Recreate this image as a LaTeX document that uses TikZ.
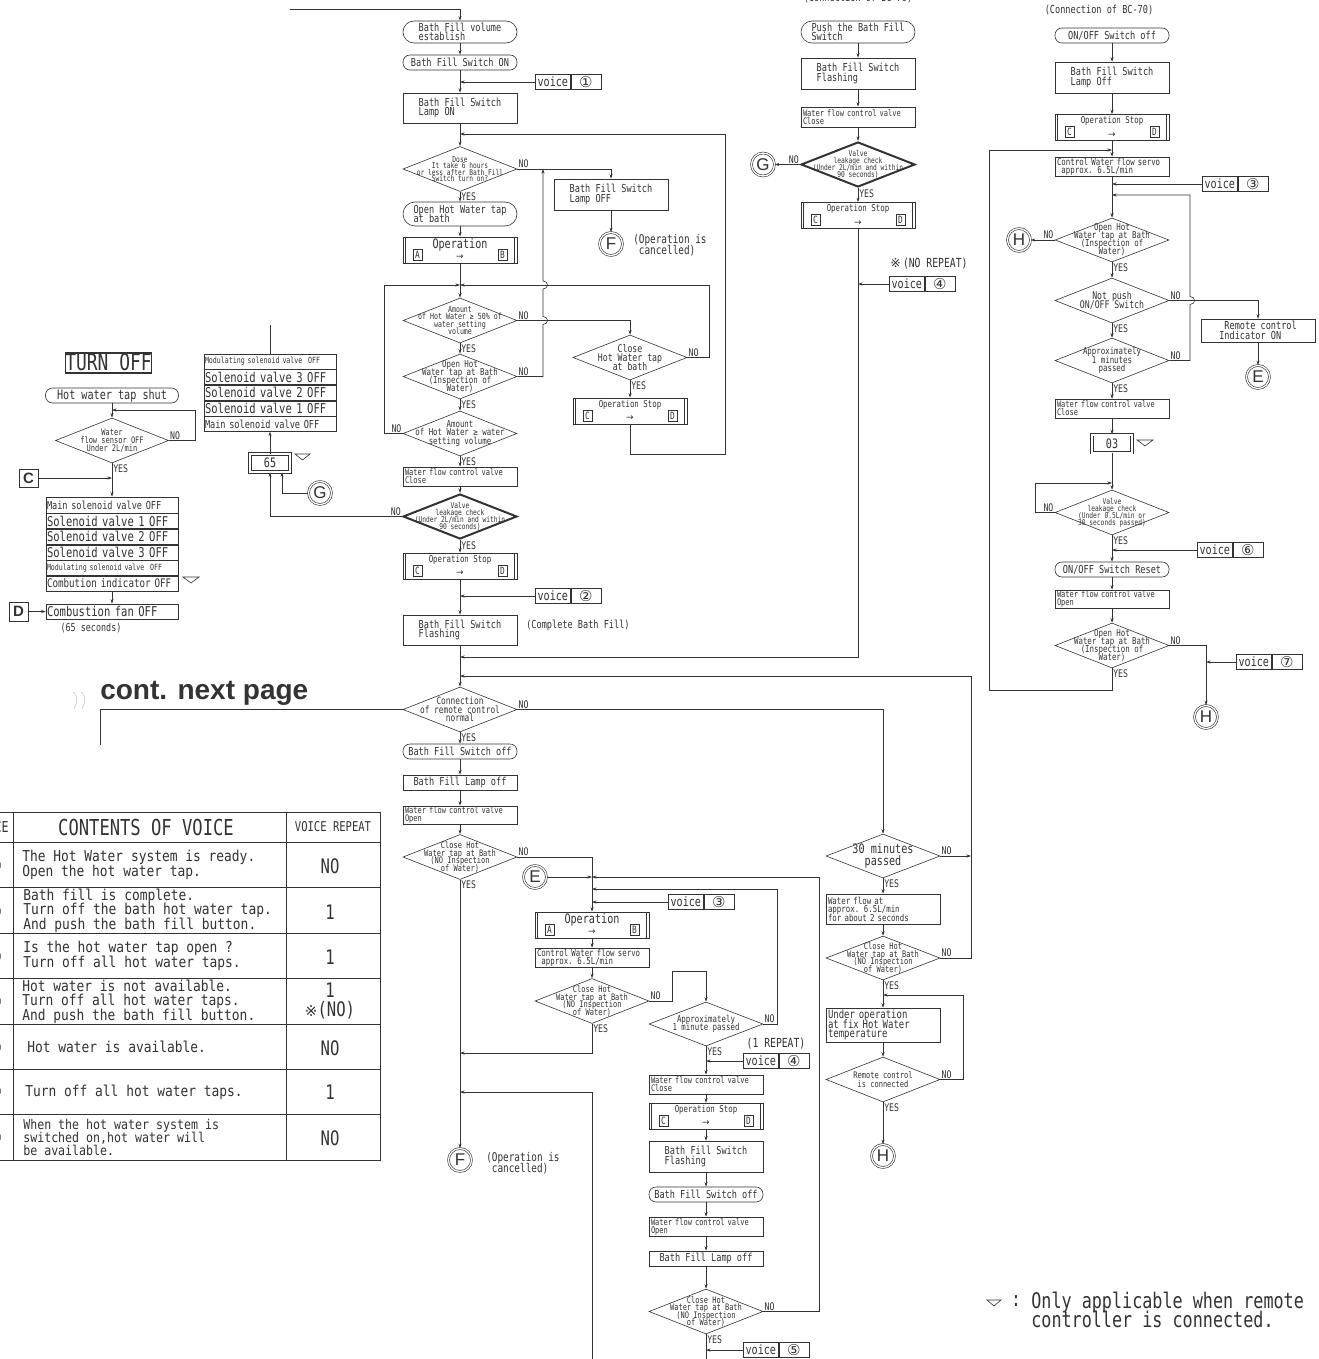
\documentclass[tikz,border=0pt]{standalone}
\usepackage{fontspec}
\setmainfont[FakeStretch=0.78]{DejaVu Sans Mono}
\newfontfamily\tabf[FakeStretch=0.86]{DejaVu Sans Mono}
\newfontfamily\symf{DejaVu Sans}
\newfontfamily\headf{Liberation Sans}
\usetikzlibrary{positioning,shapes.geometric,arrows.meta}

\newcommand{\fs}[2]{\fontsize{#1}{#2}\selectfont\lineskiplimit=-100pt\relax}
% voice box: name, left x, y, number
\newcommand{\vcbox}[4]{%
  \node[vbox,anchor=west] (#1) at (#2,#3) {voice};
  \node[vnum,right=0pt of #1] (#1n) {#4};}
% operation block: name, position, title font, title, left letter, right letter
\newcommand{\opblock}[6]{%
  \node[opb] (#1) at (#2) {};
  \draw ([xshift=3pt]#1.north west) -- ([xshift=3pt]#1.south west)
        ([xshift=-3pt]#1.north east) -- ([xshift=-3pt]#1.south east);
  \node[inner sep=0pt,font=#3,anchor=north] (#1t) at ([yshift=-2pt]#1.north) {#4};
  \node[inner sep=0pt,font=\symf\fs{9}{9}] (#1a) at ([yshift=6pt]#1.south) {→};
  \node[lbox,anchor=south west] (#1l) at ([shift={(10pt,3pt)}]#1.south west) {#5};
  \node[lbox,anchor=south east] (#1r) at ([shift={(-10pt,3pt)}]#1.south east) {#6};}

\begin{document}
\begin{tikzpicture}[x=1pt,y=-1pt,line width=0.6pt,color=black!80,
  >={Stealth[length=4.5pt,width=3pt]},
  box/.style={draw,rectangle,minimum width=114pt,inner sep=0pt,align=left,font=\fs{11}{9.5}},
  lbx/.style={box,text width=110pt,inner xsep=2pt},
  term/.style={box,rounded corners=#1},
  term/.default=7pt,
  srow/.style={draw,rectangle,minimum height=15pt,text width=130pt,inner xsep=1pt,inner ysep=0pt,align=left},
  dec/.style={draw,diamond,minimum width=114pt,minimum height=45pt,inner sep=0pt},
  bdec/.style={dec,line width=2pt},
  dtxt/.style={align=center,inner sep=0pt},
  conn/.style={draw,circle,double,double distance=1.3pt,minimum size=23pt,inner sep=0pt,font=\headf\fs{17}{17}},
  opb/.style={draw,rectangle,minimum width=114pt,minimum height=26pt,inner sep=0pt},
  lbox/.style={draw,rectangle,minimum width=9pt,minimum height=11pt,inner sep=0pt,font=\fs{10}{10}},
  vbox/.style={draw,rectangle,minimum width=35pt,minimum height=15pt,inner sep=0pt,font=\fs{13}{13}},
  vnum/.style={draw,rectangle,minimum width=30pt,minimum height=15pt,inner sep=0pt,font=\symf\fs{15}{15}},
  dbx/.style={draw,double,double distance=2pt,minimum width=40pt,minimum height=18pt,inner sep=0pt,font=\fs{13}{13}},
  cbx/.style={draw,minimum width=19pt,minimum height=19pt,inner sep=0pt,font=\headf\bfseries\fs{15}{15}},
  lbl/.style={inner sep=1pt,font=\fs{10.5}{10.5}},
  note/.style={align=left,inner sep=0pt},
  row/.style={note,anchor=west,font=\tabf\fs{15}{14.5}}]
\useasboundingbox[fill=white] (0,0) rectangle (1318,1359);

% ---------- main column ----------
\coordinate (inA) at (290,9);
\node[term=11pt,minimum height=22pt] (t1) at (460,32) {Bath Fill volume\\establish};
\node[term,minimum height=15pt] (t2) at (460,62.5) {Bath Fill Switch ON};
\vcbox{v1}{535}{82}{①}
\node[box,minimum height=30pt] (p1) at (460,108) {Bath Fill Switch\\Lamp ON};
\coordinate (j1) at (460,134);
\node[dec] (d1) at (460,169) {};
\node[dtxt,font=\fs{8}{6.5}] (d1t) at (d1) {Dose\\It take 6 hours\\or less after Bath Fill\\Switch turn on?};
\node[box,minimum height=31pt] (p2) at (611,194.5) {Bath Fill Switch\\Lamp OFF};
\node[conn] (cF1) at (611,244) {F};
\node[note,anchor=west,font=\fs{12}{10.5}] (can1) at (633,245) {(Operation is\\\hphantom{(}cancelled)};
\node[term=12pt,minimum height=24pt] (t3) at (460,214) {Open Hot Water tap\\at bath};
\opblock{op1}{460,250}{\fs{13}{13}}{Operation}{A}{B}
\coordinate (j2) at (460,285);
\node[dec] (d2) at (460,320.5) {};
\node[dtxt,font=\fs{8.5}{7.5}] (d2t) at (d2) {Amount\\of Hot Water ≥ 50\% of\\water setting\\volume};
\node[dec] (d3) at (630,357.5) {};
\node[dtxt,font=\fs{10.5}{9}] (d3t) at (d3) {Close\\Hot Water tap\\at bath};
\opblock{op2}{630,411}{\fs{9.5}{9.5}}{Operation Stop}{C}{D}
\node[dec] (d4) at (460,376.5) {};
\node[dtxt,font=\fs{9.5}{8}] (d4t) at (d4) {Open Hot\\Water tap at Bath\\(Inspection of\\Water)};
\node[dec] (d5) at (460,433.5) {};
\node[dtxt,font=\fs{9.5}{8.5}] (d5t) at (d5) {Amount\\of Hot Water ≥ water\\setting volume};
\node[lbx,minimum height=19pt,font=\fs{9}{8}] (p3) at (460,476.5) {Water flow control valve\\Close};
\node[bdec] (d6) at (460,516.5) {};
\node[dtxt,font=\fs{8}{7}] (d6t) at (d6) {Valve\\leakage check\\(Under 2L/min and within\\90 seconds)};
\opblock{op3}{460,566}{\fs{9.5}{9.5}}{Operation Stop}{C}{D}
\vcbox{v2}{535}{596}{②}
\node[box,minimum height=30pt] (p4) at (460,630) {Bath Fill Switch\\Flashing};
\node[note,anchor=west,font=\fs{11}{11}] (cmp) at (526,625) {(Complete Bath Fill)};
\coordinate (j3) at (460,657);
\coordinate (j4) at (460,676);
\node[dec] (d7) at (460,709.5) {};
\node[dtxt,font=\fs{10}{8.5}] (d7t) at (d7) {Connection\\of remote control\\normal};
\coordinate (cnt) at (100,745);
\node[term,minimum height=15pt] (t4) at (460,751.5) {Bath Fill Switch off};
\node[box,minimum height=15pt] (p5) at (460,782.5) {Bath Fill Lamp off};
\node[lbx,minimum height=18pt,font=\fs{9}{8}] (p6) at (460,815) {Water flow control valve\\Open};
\node[dec] (d8) at (460,857) {};
\node[dtxt,font=\fs{9}{7.5}] (d8t) at (d8) {Close Hot\\Water tap at Bath\\(NO Inspection\\of Water)};
\node[conn] (cF2) at (460,1160) {F};
\node[note,anchor=west,font=\fs{12}{10.5}] (can2) at (486,1163) {(Operation is\\\hphantom{(}cancelled)};
\coordinate (j7) at (460,1053);
\coordinate (j8) at (460,1092);

% ---------- middle column ----------
\node[conn] (cE1) at (535,877) {E};
\coordinate (j5) at (592,877);
\coordinate (j6) at (592,889);
\vcbox{v3}{668}{902}{③}
\opblock{op4}{592,925}{\fs{13}{13}}{Operation}{A}{B}
\node[lbx,minimum height=19pt,font=\fs{9.5}{8}] (p7) at (592,957.5) {Control Water flow servo\\\hphantom{a}approx. 6.5L/min};
\node[dec] (d9) at (592,1001) {};
\node[dtxt,font=\fs{9}{7.5}] (d9t) at (d9) {Close Hot\\Water tap at Bath\\(NO Inspection\\of Water)};
\node[dec,minimum height=44pt] (d10) at (706,1024) {};
\node[dtxt,font=\fs{9.5}{8.5}] (d10t) at (d10) {Approximately\\1 minute passed};
\node[note,font=\fs{12.5}{12.5}] (rep1) at (776,1044) {(1 REPEAT)};
\vcbox{v4}{743}{1061}{④}
\node[lbx,minimum height=19pt,font=\fs{9}{8}] (p8) at (706,1084.5) {Water flow control valve\\Close};
\opblock{op5}{706,1116}{\fs{9.5}{9.5}}{Operation Stop}{C}{D}
\node[box,minimum height=31pt] (p9) at (706,1156.5) {Bath Fill Switch\\Flashing};
\node[term,minimum height=15pt] (t5) at (706,1194.5) {Bath Fill Switch off};
\node[lbx,minimum height=19pt,font=\fs{9}{8}] (p10) at (706,1226.5) {Water flow control valve\\Open};
\node[box,minimum height=15pt] (p11) at (706,1258.5) {Bath Fill Lamp off};
\node[dec] (d11) at (706,1311.5) {};
\node[dtxt,font=\fs{9}{7.5}] (d11t) at (d11) {Close Hot\\Water tap at Bath\\(NO Inspection\\of Water)};
\vcbox{v5}{743}{1350}{⑤}
\coordinate (outB) at (706,1362);
\coordinate (inB) at (592,1362);

% ---------- 30 minutes column ----------
\node[dec,minimum height=44pt] (d12) at (883,856) {};
\node[dtxt,font=\fs{13}{12}] (d12t) at (d12) {30 minutes\\passed};
\coordinate (j9) at (971,856);
\node[lbx,minimum height=30pt,font=\fs{9.5}{8.5}] (p12) at (883,909) {Water flow at\\approx. 6.5L/min\\for about 2 seconds};
\node[dec,minimum height=44pt] (d13) at (883,958) {};
\node[dtxt,font=\fs{9}{7.5}] (d13t) at (d13) {Close Hot\\Water tap at Bath\\(NO Inspection\\of Water)};
\coordinate (j10) at (883,995);
\node[lbx,minimum height=34pt,font=\fs{11.5}{9.5}] (p13) at (883,1025) {Under operation\\at fix Hot Water\\temperature};
\node[dec] (d14) at (883,1079.5) {};
\node[dtxt,font=\fs{9}{8.5}] (d14t) at (d14) {Remote control\\is connected};
\node[conn] (cH1) at (883,1156) {H};

% ---------- second column ----------
\node[note,anchor=base,font=\fs{11}{11}] (bc1) at (858,2) {(Connection of BC-70)};
\node[term=11pt,minimum height=22pt] (t6) at (858,32) {Push the Bath Fill\\Switch};
\node[box,minimum height=31pt] (p14) at (858,73.5) {Bath Fill Switch\\Flashing};
\node[lbx,minimum height=20pt,font=\fs{9}{8}] (p15) at (858,117) {Water flow control valve\\Close};
\node[bdec] (d15) at (858,164.5) {};
\node[dtxt,font=\fs{8}{7}] (d15t) at (d15) {Valve\\leakage check\\(Under 2L/min and within\\90 seconds)};
\node[conn] (cG1) at (763,164.5) {G};
\opblock{op6}{858,215.5}{\fs{9.5}{9.5}}{Operation Stop}{C}{D}
\node[note,font=\fs{12.5}{12.5}] (rep2) at (929,264) {{\symf ※}\,(NO REPEAT)};
\vcbox{v6}{889}{284}{④}

% ---------- third column ----------
\node[note,anchor=base,font=\fs{11}{11}] (bc2) at (1099,14) {(Connection of BC-70)};
\node[term,minimum height=15pt] (t7) at (1112,35.5) {ON/OFF Switch off};
\node[box,minimum height=31pt] (p16) at (1112,77.5) {Bath Fill Switch\\Lamp Off};
\opblock{op7}{1112,127.5}{\fs{9.5}{9.5}}{Operation Stop}{C}{D}
\coordinate (j11) at (1112,150);
\node[lbx,minimum height=19pt,font=\fs{9.5}{8}] (p17) at (1112,166.5) {Control Water flow servo\\\hphantom{a}approx. 6.5L/min};
\vcbox{v7}{1202}{184}{③}
\coordinate (j12) at (1112,195);
\node[dec,minimum height=44pt] (d16) at (1112,240) {};
\node[dtxt,font=\fs{9.5}{8}] (d16t) at (d16) {Open Hot\\Water tap at Bath\\(Inspection of\\Water)};
\node[conn] (cH2) at (1019,240) {H};
\node[dec] (d17) at (1112,300.5) {};
\node[dtxt,font=\fs{10.5}{9.5}] (d17t) at (d17) {Not push\\ON/OFF Switch};
\node[box,minimum height=23pt] (p18) at (1258,330.5) {\hphantom{a}Remote control\\Indicator ON};
\node[conn] (cE2) at (1258,377) {E};
\node[dec] (d18) at (1112,360.5) {};
\node[dtxt,font=\fs{9.5}{8.5}] (d18t) at (d18) {Approximately\\1 minutes\\passed};
\node[lbx,minimum height=19pt,font=\fs{9}{8}] (p19) at (1112,408.5) {Water flow control valve\\Close};
\node[dbx] (n03) at (1112,443.5) {03};
\coordinate (j13) at (1112,483);
\node[dec] (d19) at (1112,512.5) {};
\node[dtxt,font=\fs{8}{7}] (d19t) at (d19) {Valve\\leakage check\\(Under 0.5L/min or\\30 seconds passed)};
\vcbox{v8}{1197}{550}{⑥}
\node[term,minimum height=15pt] (t8) at (1112,569.5) {ON/OFF Switch Reset};
\node[lbx,minimum height=18pt,font=\fs{9}{8}] (p20) at (1112,599) {Water flow control valve\\Open};
\node[dec] (d20) at (1112,645.5) {};
\node[dtxt,font=\fs{9.5}{8}] (d20t) at (d20) {Open Hot\\Water tap at Bath\\(Inspection of\\Water)};
\vcbox{v9}{1236}{662}{⑦}
\node[conn] (cH3) at (1206,717) {H};

% ---------- turn off ----------
\node[draw,line width=1.2pt,minimum width=85pt,minimum height=20pt,inner sep=0pt,text height=15pt,text depth=0pt,font=\fs{23}{23}] (ttl) at (108.5,363) {TURN OFF};
\node[term,minimum width=133pt,minimum height=15pt,font=\fs{13}{13}] (t9) at (112,395.5) {Hot water tap shut};
\coordinate (j14) at (112,410);
\node[dec,minimum width=113pt] (d21) at (112,440.5) {};
\node[dtxt,font=\fs{9}{8}] (d21t) at (d21) {Water\\flow sensor OFF\\Under 2L/min};
\node[cbx,minimum height=18pt] (cC) at (28.5,478) {C};
\coordinate (j15) at (112,478);
\node[srow,minimum height=16pt,font=\fs{11}{11}] (s1) at (112,505) {Main solenoid valve OFF};
\node[srow,font=\fs{13.5}{13.5},below=0pt of s1] (s2) {Solenoid valve 1 OFF};
\node[srow,font=\fs{13.5}{13.5},below=0pt of s2] (s3) {Solenoid valve 2 OFF};
\node[srow,font=\fs{13.5}{13.5},below=0pt of s3] (s4) {Solenoid valve 3 OFF};
\node[srow,font=\fs{8.5}{8.5},below=0pt of s4] (s5) {Modulating solenoid valve\ \ OFF};
\node[srow,font=\fs{11.8}{11.8},below=0pt of s5] (s6) {Combution indicator OFF};
\draw (183,577) -- (199,577) -- (191,583) -- cycle;
\node[srow,font=\fs{13.5}{13.5}] (fan) at (112,611.5) {Combustion fan OFF};
\node[cbx] (cD) at (18.5,611.5) {D};
\node[note,font=\fs{10.8}{10.8}] (sec) at (91,628) {(65 seconds)};

% ---------- stack above 65 ----------
\node[srow,font=\fs{8.5}{8.5}] (m1) at (270,361.5) {Modulating solenoid valve\ \ OFF};
\node[srow,font=\fs{13.5}{13.5},below=0pt of m1] (m2) {Solenoid valve 3 OFF};
\node[srow,font=\fs{13.5}{13.5},below=0pt of m2] (m3) {Solenoid valve 2 OFF};
\node[srow,font=\fs{13.5}{13.5},below=0pt of m3] (m4) {Solenoid valve 1 OFF};
\node[srow,font=\fs{11}{11},below=0pt of m4] (m5) {Main solenoid valve OFF};
\coordinate (outC) at (270,325);
\node[dbx] (n65) at (270,463) {65};
\draw (295,454) -- (310,454) -- (302.5,460) -- cycle;
\node[conn] (cG2) at (320,493) {G};
\draw (1137,440) -- (1153,440) -- (1145,446) -- cycle;

% ---------- connectors ----------
\draw[->] (inA) -| (t1.north);
\draw[->] (t1) -- (t2);
\draw[->] (t2) -- (p1);
\draw[->] (v1.west) -- (v1.west -| t2.south);
\draw[->] (p1) -- (d1);
\draw[->] (d1.east) -| (p2.north);
\draw[->] (p2) -- (cF1);
\draw[->] (d1) -- (t3);
\draw[->] (t3) -- (op1);
\draw[->] (op1) -- (d2);
\draw[->] (d2.east) -| (d3.north);
\draw[->] (d3) -- (op2);
\draw[->] (op2.south) |- (725,454) |- (j1);
\draw[->] (d3.east) -| (709,285) -- (j2);
\draw[->] (d2) -- (d4);
\draw[->] (d4.east) -- (543,376.5) -- (543,324.5) .. controls (549,324.5) and (549,316.5) .. (543,316.5)
  -- (543,289) .. controls (549,289) and (549,281) .. (543,281) -- (543,169);
\draw[->] (d4) -- (d5);
\draw[->] (d5.west) -| (384,285) -- (j2);
\draw[->] (d5) -- (p3);
\draw[->] (p3) -- (d6);
\draw[->] (d6.west) -| (n65.south);
\draw[->] (d6) -- (op3);
\draw[->] (op3) -- (p4);
\draw[->] (v2.west) -- (v2.west -| op3.south);
\draw[->] (p4) -- (d7);
\draw (d7.west) -| (cnt);
\draw[->] (d7.east) -| (d12.north);
\draw[->] (d7) -- (t4);
\draw[->] (t4) -- (p5);
\draw[->] (p5) -- (p6);
\draw[->] (p6) -- (d8);
\draw[->] (d8) -- (cF2);
\draw[->] (d8.east) -| (op4.north);
\draw[->] (cE1) -- (j5);
\draw[->] (v3.west) -- (v3.west -| op4.north);
\draw[->] (op4) -- (p7);
\draw[->] (p7) -- (d9);
\draw[->] (d9.east) -| (672,971) -| (d10.north);
\draw[->] (d9.south) |- (j7);
\draw[->] (d10.east) -| (777,889) -- (j6);
\draw[->] (d10) -- (p8);
\draw[->] (v4.west) -- (v4.west -| p8.north);
\draw[->] (p8) -- (op5);
\draw[->] (op5) -- (p9);
\draw[->] (p9) -- (t5);
\draw[->] (t5) -- (p10);
\draw[->] (p10) -- (p11);
\draw[->] (p11) -- (d11);
\draw[->] (d11.east) -| (819,877) -- (j5);
\draw (d11.south) -- (outB);
\draw[->] (v5.west) -- (v5.west -| d11.south);
\draw[->] (inB) |- (j8);
\draw[->] (d12.east) -- (j9);
\draw[->] (d12) -- (p12);
\draw[->] (p12) -- (d13);
\draw[->] (d13.east) -| (971,676) -- (j4);
\draw[->] (d13) -- (p13);
\draw[->] (p13) -- (d14);
\draw[->] (d14.east) -| (963,995) -- (j10);
\draw[->] (d14) -- (cH1);
\draw[->] (t6) -- (p14);
\draw[->] (p14) -- (p15);
\draw[->] (p15) -- (d15);
\draw[->] (d15.west) -- (cG1);
\draw[->] (d15) -- (op6);
\draw[->] (op6.south) |- (j3);
\draw[->] (v6.west) -- (v6.west -| op6.south);
\draw[->] (t7) -- (p16);
\draw[->] (p16) -- (op7);
\draw[->] (op7) -- (p17);
\draw[->] (v7.west) -- (v7.west -| p17.south);
\draw[->] (p17) -- (d16);
\draw[->] (d16.west) -- (cH2);
\draw[->] (d16) -- (d17);
\draw[->] (d17.east) -| (p18.north);
\draw[->] (p18) -- (cE2);
\draw[->] (d17) -- (d18);
\draw[->] (d18.east) -- (1190,360.5) -- (1190,304.5) .. controls (1196,304.5) and (1196,296.5) .. (1190,296.5)
  -- (1190,195) -- (j12);
\draw[->] (d18) -- (p19);
\draw[->] (p19) -- (n03);
\draw[->] (n03) -- (d19);
\draw[->] (d19.west) -| (1035,483) -- (j13);
\draw[->] (d19) -- (t8);
\draw[->] (v8.west) -- (v8.west -| t8.north);
\draw[->] (t8) -- (p20);
\draw[->] (p20) -- (d20);
\draw[->] (d20.east) -| (cH3.north);
\draw[->] (v9.west) -- (v9.west -| cH3.north);
\draw[->] (d20.south) |- (989,690) |- (j11);
\draw[->] (t9) -- (d21);
\draw[->] (d21.east) -| (195,410) -- (j14);
\draw[->] (d21) -- (s1);
\draw[->] (cC) -- (j15);
\draw[->] (s6) -- (fan);
\draw[->] (cD) -- (fan);
\draw[->] (n65) -- (m5);
\draw (m1.north) -- (outC);
\draw[->] (cG2.west) -| ([xshift=12pt]n65.south);

% ---------- yes / no ----------
\node[lbl,anchor=south west] (d1n) at (d1.east) {NO};
\node[lbl,anchor=north west] (d1y) at (d1.south) {YES};
\node[lbl,anchor=south west] (d2n) at (d2.east) {NO};
\node[lbl,anchor=north west] (d2y) at (d2.south) {YES};
\node[lbl,anchor=south west] (d3n) at (d3.east) {NO};
\node[lbl,anchor=north west] (d3y) at (d3.south) {YES};
\node[lbl,anchor=south west] (d4n) at (d4.east) {NO};
\node[lbl,anchor=north west] (d4y) at (d4.south) {YES};
\node[lbl,anchor=south east] (d5n) at (d5.west) {NO};
\node[lbl,anchor=north west] (d5y) at (d5.south) {YES};
\node[lbl,anchor=south east] (d6n) at (d6.west) {NO};
\node[lbl,anchor=north west] (d6y) at (d6.south) {YES};
\node[lbl,anchor=south west] (d7n) at (d7.east) {NO};
\node[lbl,anchor=north west] (d7y) at (d7.south) {YES};
\node[lbl,anchor=south west] (d8n) at (d8.east) {NO};
\node[lbl,anchor=north west] (d8y) at (d8.south) {YES};
\node[lbl,anchor=south west] (d9n) at (d9.east) {NO};
\node[lbl,anchor=north west] (d9y) at (d9.south) {YES};
\node[lbl,anchor=south west] (d10n) at (d10.east) {NO};
\node[lbl,anchor=north west] (d10y) at (d10.south) {YES};
\node[lbl,anchor=south west] (d11n) at (d11.east) {NO};
\node[lbl,anchor=north west] (d11y) at (d11.south) {YES};
\node[lbl,anchor=south west] (d12n) at (d12.east) {NO};
\node[lbl,anchor=north west] (d12y) at (d12.south) {YES};
\node[lbl,anchor=south west] (d13n) at (d13.east) {NO};
\node[lbl,anchor=north west] (d13y) at (d13.south) {YES};
\node[lbl,anchor=south west] (d14n) at (d14.east) {NO};
\node[lbl,anchor=north west] (d14y) at (d14.south) {YES};
\node[lbl,anchor=south east] (d15n) at (d15.west) {NO};
\node[lbl,anchor=north west] (d15y) at (d15.south) {YES};
\node[lbl,anchor=south east] (d16n) at (d16.west) {NO};
\node[lbl,anchor=north west] (d16y) at (d16.south) {YES};
\node[lbl,anchor=south west] (d17n) at (d17.east) {NO};
\node[lbl,anchor=north west] (d17y) at (d17.south) {YES};
\node[lbl,anchor=south west] (d18n) at (d18.east) {NO};
\node[lbl,anchor=north west] (d18y) at (d18.south) {YES};
\node[lbl,anchor=south east] (d19n) at (d19.west) {NO};
\node[lbl,anchor=north west] (d19y) at (d19.south) {YES};
\node[lbl,anchor=south west] (d20n) at (d20.east) {NO};
\node[lbl,anchor=north west] (d20y) at (d20.south) {YES};
\node[lbl,anchor=south west] (d21n) at (d21.east) {NO};
\node[lbl,anchor=north west] (d21y) at (d21.south) {YES};

% ---------- continued ----------
\node[anchor=south west,inner sep=0pt,font=\headf\bfseries\fs{28}{28}] (cont) at (100,706) {cont. next page};
\draw[gray!50,line width=0.5pt] (73,692) .. controls (79,697) and (77,703) .. (74,709);
\draw[gray!50,line width=0.5pt] (81,692) .. controls (87,697) and (85,703) .. (82,709);

% ---------- table of voices ----------
\draw (-5,812) -- (380,812) -- (380,1160) -- (-5,1160);
\draw (-5,842) -- (380,842);
\draw (-5,887) -- (380,887);
\draw (-5,933) -- (380,933);
\draw (-5,978) -- (380,978);
\draw (-5,1024) -- (380,1024);
\draw (-5,1069) -- (380,1069);
\draw (-5,1114) -- (380,1114);
\draw (13,812) -- (13,1160);
\draw (286,812) -- (286,1160);
\node[anchor=east,inner sep=0pt,font=\fs{15}{15}] (hd0) at (9,827) {VOICE};
\node[inner sep=0pt,font=\fs{22}{22}] (hd1) at (146,827) {CONTENTS OF VOICE};
\node[inner sep=0pt,font=\fs{13.5}{13.5}] (hd2) at (333,827) {VOICE REPEAT};
\node[row] (r1) at (22,865) {The Hot Water system is ready.\\Open the hot water tap.};
\node[row] (r2) at (23,910.5) {Bath fill is complete.\\Turn off the bath hot water tap.\\And push the bath fill button.};
\node[row] (r3) at (23,956) {Is the hot water tap open ?\\Turn off all hot water taps.};
\node[row] (r4) at (22,1001.5) {Hot water is not available.\\Turn off all hot water taps.\\And push the bath fill button.};
\node[row] (r5) at (27,1047) {Hot water is available.};
\node[row] (r6) at (25,1092) {Turn off all hot water taps.};
\node[row,font=\tabf\fs{13.5}{12.8}] (r7) at (23,1137.5) {When the hot water system is\\switched on,hot water will\\be available.};
\node[inner sep=0pt,font=\fs{20}{20}] (q1) at (330,866) {NO};
\node[inner sep=0pt,font=\fs{20}{20}] (q2) at (330,912) {1};
\node[inner sep=0pt,font=\fs{20}{20}] (q3) at (330,957) {1};
\node[align=center,inner sep=0pt,font=\fs{20}{19}] (q4) at (330,1001) {1\\{\symf\fs{15}{15}※}(NO)};
\node[inner sep=0pt,font=\fs{20}{20}] (q5) at (330,1048) {NO};
\node[inner sep=0pt,font=\fs{20}{20}] (q6) at (330,1092) {1};
\node[inner sep=0pt,font=\fs{20}{20}] (q7) at (330,1138) {NO};
\node[inner sep=0pt,font=\symf\fs{16}{16}] (c1) at (-5,866) {①};
\node[inner sep=0pt,font=\symf\fs{16}{16}] (c2) at (-5,912) {②};
\node[inner sep=0pt,font=\symf\fs{16}{16}] (c3) at (-5,957) {③};
\node[inner sep=0pt,font=\symf\fs{16}{16}] (c4) at (-5,1002) {④};
\node[inner sep=0pt,font=\symf\fs{16}{16}] (c5) at (-5,1048) {⑤};
\node[inner sep=0pt,font=\symf\fs{16}{16}] (c6) at (-5,1092) {⑥};
\node[inner sep=0pt,font=\symf\fs{16}{16}] (c7) at (-5,1138) {⑦};

% ---------- legend ----------
\draw (987,1300) -- (1001,1300) -- (994,1306) -- cycle;
\node[inner sep=0pt,font=\fs{21}{21}] (lgc) at (1016,1301) {:};
\node[note,anchor=west,font=\fs{21.5}{19}] (lgd) at (1031,1310) {Only applicable when remote\\controller is connected.};
\end{tikzpicture}
\end{document}
